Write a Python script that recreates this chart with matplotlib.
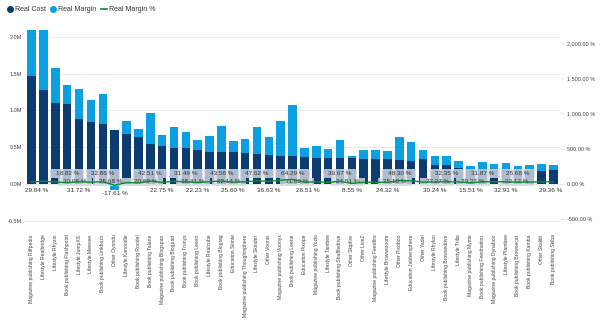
import matplotlib
matplotlib.use("Agg")
import matplotlib.pyplot as plt
from matplotlib.patches import Rectangle
from matplotlib.lines import Line2D
import numpy as np

plt.rcParams['font.family'] = ['Liberation Sans', 'DejaVu Sans']

categories = [
    "Magazine publishing Riffpedia", "Lifestyle Realbridge", "Lifestyle Rhyzio",
    "Book publishing Flashpoint", "Lifestyle JumpXS", "Lifestyle Meevee",
    "Book publishing Linkbuzz", "Other Oyondu", "Lifestyle Kanoodle",
    "Book publishing Roodel", "Book publishing Talane", "Magazine publishing Blogspan",
    "Book publishing Blogpad", "Book publishing Trunyx", "Book publishing Leexo",
    "Lifestyle Realcube", "Book publishing Blogtag", "Education Skinte",
    "Magazine publishing Thoughtsphere", "Lifestyle Skinder", "Other Voonix",
    "Magazine publishing Voonyx", "Book publishing Leenti", "Education Pixope",
    "Magazine publishing Yozio", "Lifestyle Tambee", "Book publishing Shuffledrive",
    "Other Skipfire", "Other LiveZ", "Magazine publishing Feedfire",
    "Lifestyle Browsezoom", "Other Pixoboo", "Education Jabbersphere",
    "Other Yadel", "Lifestyle Rhyloo", "Book publishing Browsedrive",
    "Lifestyle Trilia", "Magazine publishing Mynte", "Book publishing Feednation",
    "Magazine publishing Dynabox", "Lifestyle Plambee", "Book publishing Browsecat",
    "Book publishing Kamba", "Other Skalith", "Book publishing Skiba",
]

# Real Cost (millions)
real_cost = [1.466, 1.28, 1.10, 1.09, 0.88, 0.84, 0.82, 0.74, 0.674, 0.633,
             0.548, 0.516, 0.489, 0.484, 0.462, 0.434, 0.434, 0.434, 0.421, 0.403,
             0.394, 0.385, 0.38, 0.362, 0.357, 0.357, 0.357, 0.352, 0.344, 0.34,
             0.34, 0.326, 0.312, 0.336, 0.258, 0.253, 0.217, 0.206, 0.204, 0.184,
             0.188, 0.185, 0.19, 0.181, 0.185]
# Real Margin (millions)
real_margin = [0.624, 0.81, 0.48, 0.25, 0.41, 0.30, 0.41, -0.085, 0.181, 0.117,
               0.412, 0.149, 0.291, 0.226, 0.131, 0.213, 0.349, 0.15, 0.19, 0.375,
               0.239, 0.47, 0.692, 0.131, 0.163, 0.118, 0.236, 0.033, 0.113, 0.122,
               0.108, 0.317, 0.258, 0.126, 0.122, 0.127, 0.091, 0.038, 0.095, 0.087,
               0.092, 0.064, 0.072, 0.09, 0.077]
# Real Margin % (percent)
real_margin_pct = [29.84, 38.8, 30.08, 18.82, 31.72, 25.68, 32.86, -17.61, 20.69, 15.6,
                   42.51, 22.75, 38.41, 31.49, 22.23, 32.14, 43.58, 25.60, 31.1, 47.62,
                   36.63, 55.0, 64.29, 26.51, 31.02, 24.51, 39.67, 8.55, 24.7, 25.10,
                   24.32, 48.30, 45.2, 27.27, 30.24, 32.35, 29.37, 15.51, 31.87, 32.12,
                   32.91, 25.68, 27.5, 33.2, 29.36]

# which points carry a visible data label: (bar index, row, horizontal shift in bars)
label_idx = [0, 3, 2, 4, 6, 5, 7, 10, 8, 11, 13, 12, 14, 16, 15, 17, 19, 20,
             22, 24, 23, 26, 25, 27, 31, 29, 30, 35, 33, 34, 38, 36, 37, 41, 39, 40, 44]
label_row = [3, 1, 2, 3, 1, 2, 3, 1, 2, 3, 1, 2, 3, 1, 2, 3, 1, 3,
             1, 2, 3, 1, 2, 3, 1, 2, 3, 1, 2, 3, 1, 2, 3, 1, 2, 3, 3]
label_dx = [0.45, 0, 1.65, 0, 0, 1.65, 0, 0, 1.6, 0, 0, 1.6, 0, 0, 1.65, 0, 0, 0,
            0, -1.65, 0.3, 0, 1.65, 0, 0, 1.65, 0, 0, 1.2, 0, 0, 1.2, 0, 0, 1.9, 0, -0.25]

ytick_left = [-0.5, 0.0, 0.5, 1.0, 1.5, 2.0]
ytick_right = [-500, 0, 500, 1000, 1500, 2000]

C_COST = "#0b3b6f"
C_MARGIN = "#0aa0e2"
C_LINE = "#128a2c"
TXT = "#444444"

fig = plt.figure(figsize=(6.0, 3.22), dpi=100)
ax = fig.add_axes([25/600, 1-222/322, (560-25)/600, (222-28)/322])
ax2 = ax.twinx()

x = np.arange(len(categories))
cost = np.array(real_cost)
marg = np.array(real_margin)
pct = np.array(real_margin_pct)

ax.bar(x, cost, width=0.72, color=C_COST, zorder=2, linewidth=0)
pos = np.where(marg > 0, marg, 0)
neg = np.where(marg < 0, marg, 0)
ax.bar(x, pos, bottom=cost, width=0.72, color=C_MARGIN, zorder=2, linewidth=0)
ax.bar(x, neg, width=0.72, color=C_MARGIN, zorder=2, linewidth=0)

ax.set_ylim(-0.516, 2.12)
ax.set_xlim(-0.56, len(categories) - 1 + 0.55)
ax.set_yticks(ytick_left)
ax.set_yticklabels([f"{v:.1f}M" for v in ytick_left])
ax.grid(axis='y', color='#e9e9e9', linewidth=0.8, zorder=0)
ax.set_axisbelow(True)
for s in ax.spines.values():
    s.set_visible(False)
for s in ax2.spines.values():
    s.set_visible(False)
ax.tick_params(axis='y', length=0, labelsize=4, labelcolor=TXT, pad=2)
ax.set_xticks(x)
ax.set_xticklabels(categories, rotation=90, fontsize=3.6, color=TXT, va='top', ha='center')
ax.tick_params(axis='x', length=0, pad=9)

ax2.set_ylim(-538, 2210)
ax2.set_yticks(ytick_right)
ax2.set_yticklabels([f"{v:,.2f} %" for v in ytick_right])
ax2.tick_params(axis='y', length=3, width=0.5, color='#dddddd', labelsize=4, labelcolor=TXT, pad=2)

# line
ax2.plot(x, pct, color=C_LINE, linewidth=1.0, zorder=3)

# label boxes and texts (in ax data coordinates)
row_y = {1: 0.145, 2: 0.028, 3: -0.09}
box_h = {1: 0.118, 2: 0.105}
for i, r, dx in zip(label_idx, label_row, label_dx):
    xc = i + dx
    yc = row_y[r]
    if i == 7:
        yc = -0.135
    if r in box_h:
        ax.add_patch(Rectangle((xc - 1.45, yc - box_h[r]/2), 2.9, box_h[r],
                               facecolor='#d3dae3', edgecolor='none', alpha=0.82, zorder=4))
    ax.text(xc, yc, f"{real_margin_pct[i]:.2f} %", ha='center', va='center',
            fontsize=4.6, color='#333333', zorder=5)

# legend
handles = [
    Line2D([], [], marker='o', linestyle='none', markersize=4, color=C_COST),
    Line2D([], [], marker='o', linestyle='none', markersize=4, color=C_MARGIN),
    Line2D([], [], color=C_LINE, linewidth=1.2),
]
fig.legend(handles, ["Real Cost", "Real Margin", "Real Margin %"], loc='upper left',
           bbox_to_anchor=(0.0, 1.0), ncol=3, frameon=False, fontsize=5,
           handlelength=1.0, handletextpad=0.2, columnspacing=0.6, labelcolor='#333333')

fig.savefig("out.png", dpi=100)
